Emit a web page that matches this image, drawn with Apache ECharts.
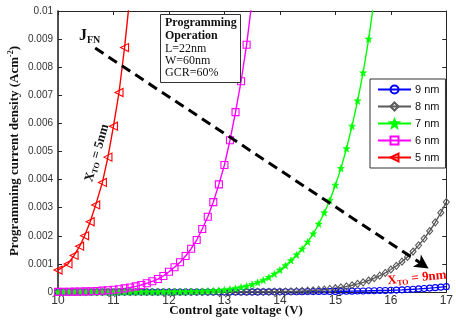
<!DOCTYPE html>
<html><head><meta charset="utf-8">
<script src="https://cdn.jsdelivr.net/npm/echarts@6/dist/echarts.min.js"></script>
<style>html,body{margin:0;padding:0;background:#fff}#c{width:456px;height:326px}</style>
</head><body><div id="c"></div>
<script>
// ---- data ----
const volts = [10.0,10.1,10.2,10.3,10.4,10.5,10.6,10.7,10.8,10.9,11.0,11.1,11.2,11.3,11.4,11.5,11.6,11.7,11.8,11.9,
  12.0,12.1,12.2,12.3,12.4,12.5,12.6,12.7,12.8,12.9,13.0,13.1,13.2,13.3,13.4,13.5,13.6,13.7,13.8,13.9,
  14.0,14.1,14.2,14.3,14.4,14.5,14.6,14.7,14.8,14.9,15.0,15.1,15.2,15.3,15.4,15.5,15.6,15.7,15.8,15.9,
  16.0,16.1,16.2,16.3,16.4,16.5,16.6,16.7,16.8,16.9,17.0];
const nm9 = [1e-10,1.5e-10,2.2e-10,3.2e-10,4.6e-10,6.6e-10,9.4e-10,1.3e-9,1.9e-9,2.6e-9,
  3.6e-9,5e-9,7e-9,9.6e-9,1.3e-8,1.8e-8,2.4e-8,3.2e-8,4.3e-8,5.7e-8,
  7.5e-8,1e-7,1.3e-7,1.7e-7,2.2e-7,2.8e-7,3.6e-7,4.6e-7,5.8e-7,7.3e-7,
  1.6e-6,1.9e-6,2.2e-6,2.6e-6,3e-6,3.5e-6,4e-6,4.6e-6,5.3e-6,6.1e-6,
  7e-6,8e-6,9.2e-6,1.05e-5,1.2e-5,1.35e-5,1.5e-5,1.7e-5,1.85e-5,2.0e-5,
  2.2e-5,2.5e-5,2.8e-5,3.1e-5,3.5e-5,3.8e-5,4.2e-5,4.7e-5,5.1e-5,5.5e-5,
  6e-5,6.8e-5,7.7e-5,8.7e-5,9.8e-5,1.1e-4,1.24e-4,1.39e-4,1.55e-4,1.72e-4,1.9e-4];
const nm8 = [4e-12,7e-12,1.2e-11,2e-11,3.3e-11,5.5e-11,9e-11,1.5e-10,2.5e-10,4e-10,
  6.5e-10,1e-9,1.6e-9,2.4e-9,3.7e-9,5.5e-9,8e-9,1.2e-8,1.8e-8,2.6e-8,
  3.7e-8,5.3e-8,7.5e-8,1.05e-7,1.45e-7,2e-7,2.8e-7,3.8e-7,5.2e-7,7e-7,
  9.5e-7,1.3e-6,1.7e-6,2.2e-6,2.9e-6,3.8e-6,5e-6,6.4e-6,8.2e-6,1.05e-5,
  1.4e-5,1.8e-5,2.3e-5,2.9e-5,3.7e-5,4.7e-5,5.9e-5,7.3e-5,9e-5,1.1e-4,
  1.35e-4,1.65e-4,2.0e-4,2.4e-4,2.9e-4,3.45e-4,4.1e-4,4.9e-4,5.8e-4,6.8e-4,
  8.0e-4,9.3e-4,1.08e-3,1.25e-3,1.44e-3,1.66e-3,1.9e-3,2.17e-3,2.48e-3,2.82e-3,3.2e-3];
const nm7 = [2.1e-9,3.3e-9,5e-9,8e-9,1.2e-8,1.8e-8,2.7e-8,4e-8,6e-8,9e-8,
  1.3e-7,1.9e-7,2.8e-7,4e-7,5.6e-7,8e-7,1.1e-6,1.6e-6,2.2e-6,3e-6,
  4.2e-6,5.7e-6,7.8e-6,1.05e-5,1.4e-5,1.9e-5,2.5e-5,3.3e-5,4.4e-5,5.8e-5,
  7.5e-5,1.0e-4,1.3e-4,1.7e-4,2.1e-4,2.7e-4,3.4e-4,4.2e-4,5.2e-4,6.4e-4,
  7.8e-4,9.4e-4,1.12e-3,1.32e-3,1.53e-3,1.78e-3,2.07e-3,2.42e-3,2.82e-3,3.26e-3,
  3.8e-3,4.4e-3,5.1e-3,5.9e-3,6.8e-3,7.8e-3,9.0e-3,1.04e-2];
const nm6 = [4.7e-6,6.5e-6,9e-6,1.2e-5,1.6e-5,2.1e-5,2.8e-5,3.7e-5,4.8e-5,6.2e-5,
  8e-5,1.0e-4,1.28e-4,1.6e-4,2.0e-4,2.5e-4,3.1e-4,3.8e-4,4.6e-4,5.7e-4,
  7.2e-4,8.8e-4,1.06e-3,1.28e-3,1.54e-3,1.85e-3,2.24e-3,2.68e-3,3.2e-3,3.83e-3,
  4.52e-3,5.4e-3,6.4e-3,7.5e-3,8.8e-3,1.04e-2];
const voltsNm5 = [10.0,10.18,10.29,10.39,10.48,10.58,10.68,10.8,10.9,11.0,11.1,11.2,11.3];
const nm5 = [7.8e-4,1.0e-3,1.3e-3,1.63e-3,2.0e-3,2.5e-3,3.1e-3,3.9e-3,4.8e-3,5.9e-3,7.1e-3,8.7e-3,1.06e-2];
const seriesNames = ['9 nm','8 nm','7 nm','6 nm','5 nm'];
const arrowStart = [10.67, 0.00868];
const arrowEnd = [16.68, 0.00084];

function pairs(xs, ys){ return ys.map((y,i)=>[xs[i], y]); }

const ser = (name, xs, ys, color, symbol, size, extra) => Object.assign({
  name, type:'line', data: pairs(xs, ys), symbol, symbolSize: size,
  lineStyle:{color, width:1.4}, itemStyle:{color:'rgba(0,0,0,0)', borderColor:color, borderWidth:1.1},
  emphasis:{disabled:true}, animation:false, clip:true, z:2
}, extra||{});

const star = 'path://M0,-5 L1.3,-1.6 L5,-1.6 L2.1,0.8 L3.1,4.8 L0,2.5 L-3.1,4.8 L-2.1,0.8 L-5,-1.6 L-1.3,-1.6 Z';

const chart = echarts.init(document.getElementById('c'), null, {renderer:'canvas'});
const axisCommon = {
  type:'value', splitLine:{show:false},
  axisLine:{show:true, onZero:false, lineStyle:{color:'#262626', width:1}},
  axisTick:{show:true, inside:true, length:4, lineStyle:{color:'#262626'}}
};
chart.setOption({
  animation:false,
  backgroundColor:'#fff',
  grid:{left:58, right:5, top:11, bottom:34},
  xAxis:[
    Object.assign({}, axisCommon, {min:10, max:17, interval:1, position:'bottom',
      axisLabel:{color:'#333', fontFamily:'Liberation Sans', fontSize:12, margin:3}}),
    Object.assign({}, axisCommon, {min:10, max:17, interval:1, position:'top', axisLabel:{show:false}})
  ],
  yAxis:[
    Object.assign({}, axisCommon, {min:0, max:0.01, interval:0.001, position:'left',
      axisLine:{show:true, onZero:false, lineStyle:{color:'#262626', width:1.6}},
      axisLabel:{color:'#333', fontFamily:'Liberation Sans', fontSize:10, margin:5,
        formatter:v=> v===0 ? '0' : String(+v.toFixed(3))}}),
    Object.assign({}, axisCommon, {min:0, max:0.01, interval:0.001, position:'right', axisLabel:{show:false}})
  ],
  legend:{
    data: seriesNames, orient:'vertical', left:370, top:79,
    padding:[5,6,5,7], itemGap:6, itemWidth:33, itemHeight:10,
    backgroundColor:'#fff', borderColor:'#333', borderWidth:1, borderRadius:0,
    textStyle:{color:'#111', fontFamily:'Liberation Sans', fontSize:11, padding:[0,0,0,-1]},
    selectedMode:false
  },
  series:[
    ser(seriesNames[0], volts, nm9, '#0000ff', 'circle', 6),
    ser(seriesNames[1], volts, nm8, '#5a5a5a', 'diamond', [6,7]),
    Object.assign(ser(seriesNames[2], volts, nm7, '#00ff00', star, 7),
      {itemStyle:{color:'#00ff00', borderColor:'#00ff00', borderWidth:0.5}}),
    ser(seriesNames[3], volts, nm6, '#ff00ff', 'rect', 7),
    ser(seriesNames[4], voltsNm5, nm5, '#ff0000', 'triangle', 8, {symbolRotate:90}),
    {type:'line', data:[], silent:true, z:5,
      markLine:{silent:true, animation:false, symbol:['none','arrow'], symbolSize:[11,14],
        label:{show:false}, lineStyle:{type:[10,6], width:3, color:'#000'},
        emphasis:{disabled:true},
        data:[[{coord:arrowStart},{coord:arrowEnd}]]}}
  ],
  graphic:[
    {type:'text', x:15, y:151, rotation:Math.PI/2, silent:true,
      style:{text:'{a|Programming current density (Acm}{s|-2}{a|)}', align:'center', verticalAlign:'middle',
        rich:{a:{font:'bold 13px "Liberation Serif"', fill:'#111', lineHeight:16},
              s:{font:'bold 8px "Liberation Serif"', fill:'#111', verticalAlign:'top', lineHeight:8}}}},
    {type:'text', x:236, y:311, silent:true,
      style:{text:'Control gate voltage (V)', font:'bold 13px "Liberation Serif"', fill:'#111', align:'center', verticalAlign:'middle'}},
    {type:'rect', shape:{x:160.5, y:14.5, width:80, height:68}, silent:true,
      style:{fill:'#fff', stroke:'#333', lineWidth:1}, z:10},
    {type:'text', x:165, y:17, silent:true, z:11,
      style:{text:'Programming\nOperation', font:'bold 12px "Liberation Serif"', fill:'#111', lineHeight:12.5}},
    {type:'text', x:165, y:43, silent:true, z:11,
      style:{text:'L=22nm\nW=60nm\nGCR=60%', font:'12px "Liberation Serif"', fill:'#111', lineHeight:12}},
    {type:'text', x:79, y:36, silent:true, z:11,
      style:{text:'{j|J}{s|FN}', verticalAlign:'middle',
        rich:{j:{font:'bold 16px "Liberation Serif"', fill:'#111', lineHeight:18},
              s:{font:'bold 10px "Liberation Serif"', fill:'#111', verticalAlign:'bottom', lineHeight:10}}}},
    {type:'text', x:97, y:153, rotation:1.29, silent:true, z:11,
      style:{text:'{a|X}{s|TO}{a| = 5nm}', align:'center', verticalAlign:'middle',
        rich:{a:{font:'bold 13px "Liberation Serif"', fill:'#111', lineHeight:15},
              s:{font:'bold 8px "Liberation Serif"', fill:'#111', verticalAlign:'bottom', lineHeight:8}}}},
    {type:'text', x:417, y:278, rotation:0.1, silent:true, z:11,
      style:{text:'{a|X}{s|TO}{a| = 9nm}', align:'center', verticalAlign:'middle',
        rich:{a:{font:'bold 13px "Liberation Serif"', fill:'#ff0000', lineHeight:15},
              s:{font:'bold 8px "Liberation Serif"', fill:'#ff0000', verticalAlign:'bottom', lineHeight:8}}}}
  ]
});
</script>
</body></html>
